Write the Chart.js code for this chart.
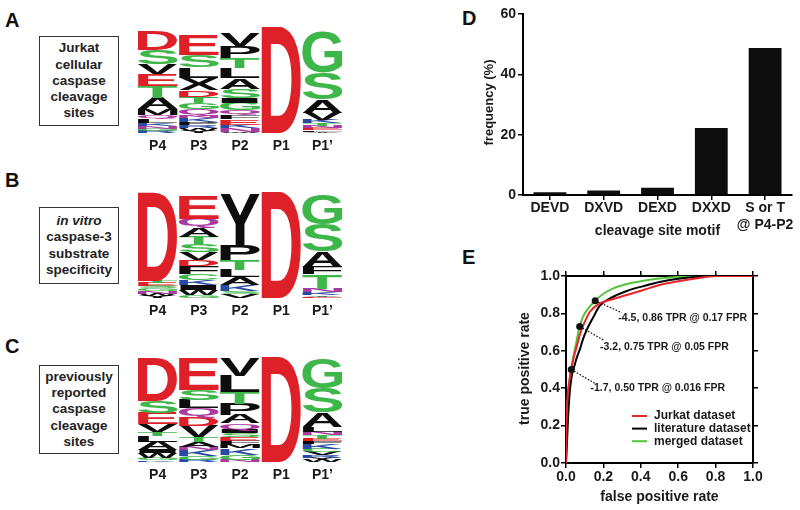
<!DOCTYPE html>
<html><head><meta charset="utf-8">
<script src="https://cdn.jsdelivr.net/npm/chart.js@4.4.0/dist/chart.umd.min.js"></script>
<style>
html,body{margin:0;padding:0;background:#fff;}
body{width:800px;height:510px;position:relative;overflow:hidden;font-family:"Liberation Sans",Arial,sans-serif;}
canvas{position:absolute;}
.panel{position:absolute;font-weight:bold;font-size:20px;line-height:20px;color:#111;}
.box{position:absolute;border:1px solid #333;display:flex;align-items:center;justify-content:center;text-align:center;font-weight:bold;font-size:13.5px;line-height:16.3px;color:#222;box-sizing:border-box;}
</style></head><body>
<div class="panel" style="left:5px;top:10px">A</div>
<div class="panel" style="left:5px;top:170px">B</div>
<div class="panel" style="left:5px;top:336px">C</div>
<div class="panel" style="left:462px;top:8px">D</div>
<div class="panel" style="left:462px;top:247px">E</div>
<div class="box" style="left:39px;top:36px;width:80px;height:90px">Jurkat<br>cellular<br>caspase<br>cleavage<br>sites</div>
<div class="box" style="left:39px;top:207px;width:80px;height:77px"><span><i>in vitro</i><br>caspase-3<br>substrate<br>specificity</span></div>
<div class="box" style="left:39px;top:365px;width:80px;height:89px">previously<br>reported<br>caspase<br>cleavage<br>sites</div>
<canvas id="logoA" width="206" height="134" style="left:137px;top:27px"></canvas>
<canvas id="logoB" width="206" height="134" style="left:137px;top:192px"></canvas>
<canvas id="logoC" width="206" height="133" style="left:137px;top:357px"></canvas>
<canvas id="chartD" width="330" height="245" style="left:470px;top:0px"></canvas>
<canvas id="chartE" width="330" height="265" style="left:470px;top:245px"></canvas>
<script>
// ---------- data ----------
const positions = ['P4', 'P3', 'P2', 'P1', 'P1\u2019'];

// sequence logos: letters listed top -> bottom per position, heights in bits
const logoA_letters = ['DSVETAMQLKNGR', 'ESLXDTGQNKPRWY', 'VPTLASIGQFEKNW', 'D', 'GSAVKTNELY'];
const logoA_bits = [
  [0.72, 0.53, 0.38, 0.42, 0.46, 0.42, 0.23, 0.15, 0.15, 0.11, 0.11, 0.08, 0.08],
  [0.76, 0.46, 0.40, 0.46, 0.25, 0.23, 0.23, 0.23, 0.11, 0.15, 0.11, 0.11, 0.11, 0.08],
  [0.47, 0.45, 0.38, 0.38, 0.41, 0.32, 0.19, 0.28, 0.20, 0.15, 0.19, 0.15, 0.12, 0.05],
  [4.0],
  [1.52, 1.01, 0.50, 0.27, 0.12, 0.10, 0.08, 0.08, 0.06, 0.05]
];
const logoB_letters = ['DTESGNWY', 'EQATSVDFCKIWG', 'YPTLAKSV', 'D', 'GSAFTNKYE'];
const logoB_bits = [
  [3.33, 0.10, 0.12, 0.08, 0.10, 0.10, 0.08, 0.08],
  [0.88, 0.34, 0.34, 0.27, 0.30, 0.30, 0.23, 0.30, 0.23, 0.19, 0.19, 0.19, 0.11],
  [1.95, 0.57, 0.38, 0.27, 0.30, 0.23, 0.11, 0.15],
  [4.0],
  [1.16, 1.02, 0.60, 0.28, 0.54, 0.14, 0.10, 0.06, 0.05]
];
const logoC_letters = ['DSEVTLAIWGK', 'ESLQDVTANKGR', 'VLTPAQISEFMKGN', 'D', 'GSALNTEFKCVRYW'];
const logoC_bits = [
  [1.65, 0.45, 0.41, 0.29, 0.16, 0.22, 0.32, 0.13, 0.19, 0.08, 0.06],
  [1.20, 0.40, 0.32, 0.36, 0.32, 0.41, 0.17, 0.19, 0.13, 0.25, 0.13, 0.08],
  [0.70, 0.63, 0.44, 0.42, 0.32, 0.25, 0.13, 0.15, 0.13, 0.13, 0.16, 0.25, 0.19, 0.08],
  [4.0],
  [1.14, 0.93, 0.55, 0.19, 0.13, 0.13, 0.09, 0.10, 0.19, 0.13, 0.13, 0.10, 0.08, 0.07]
];

// panel D: bar chart
const motifs = ['DEVD', 'DXVD', 'DEXD', 'DXXD', ['S or T', '@ P4-P2']];
const motifFreq = [0.9, 1.5, 2.4, 22.2, 48.7];

// panel E: ROC curves
const jurkatFPR = [0, 0.001, 0.003, 0.007, 0.018, 0.03, 0.045, 0.057, 0.075, 0.093, 0.128, 0.182, 0.235, 0.325, 0.414, 0.5, 0.6, 0.7, 0.8, 1.0];
const jurkatTPR = [0, 0.10, 0.20, 0.33, 0.44, 0.515, 0.58, 0.622, 0.69, 0.738, 0.809, 0.854, 0.872, 0.898, 0.925, 0.952, 0.972, 0.988, 1.0, 1.0];
const literatureFPR = [0, 0.004, 0.01, 0.02, 0.03, 0.045, 0.06, 0.075, 0.09, 0.11, 0.146, 0.18, 0.235, 0.325, 0.414, 0.5, 0.6, 0.7, 0.8, 1.0];
const literatureTPR = [0, 0.08, 0.22, 0.38, 0.46, 0.52, 0.57, 0.61, 0.66, 0.71, 0.78, 0.84, 0.88, 0.92, 0.946, 0.968, 0.985, 0.995, 1.0, 1.0];
const mergedFPR = [0, 0.003, 0.008, 0.015, 0.028, 0.04, 0.05, 0.073, 0.09, 0.11, 0.156, 0.2, 0.253, 0.325, 0.414, 0.5, 0.6, 0.7, 0.8, 1.0];
const mergedTPR = [0, 0.17, 0.30, 0.40, 0.50, 0.57, 0.62, 0.73, 0.78, 0.815, 0.868, 0.905, 0.934, 0.957, 0.975, 0.987, 0.995, 0.999, 1.0, 1.0];
const thresholdFPR = [0.156, 0.073, 0.028];
const thresholdTPR = [0.868, 0.73, 0.50];
const thresholdText = ['-4.5, 0.86 TPR @ 0.17 FPR', '-3.2, 0.75 TPR @ 0.05 FPR', '-1.7, 0.50 TPR @ 0.016 FPR'];
const labelFPR = [0.28, 0.182, 0.131];
const labelTPR = [0.773, 0.62, 0.40];
const leaderEndFPR = [0.298, 0.20, 0.155];
const leaderEndTPR = [0.804, 0.658, 0.426];
const rocLegend = ['Jurkat dataset', 'literature dataset', 'merged dataset'];

// ---------- styles ----------
const FONT = '"Liberation Sans", Arial, Helvetica, sans-serif';
Chart.defaults.font.family = FONT;
Chart.defaults.font.weight = 'bold';
Chart.defaults.color = '#1a1a1a';
const RED = 'rgb(222,32,40)', GREEN = 'rgb(62,182,74)', PURPLE = 'rgb(168,58,160)', BLUE = 'rgb(40,74,162)', BLACK = '#0d0d0d';
const ROC_RED = 'rgb(232,36,40)', ROC_GREEN = 'rgb(84,196,60)';
function letterColor(L) {
  if ('DE'.includes(L)) return RED;
  if ('STGC'.includes(L)) return GREEN;
  if ('NQ'.includes(L)) return PURPLE;
  if ('KRH'.includes(L)) return BLUE;
  return BLACK;
}

// ---------- logos ----------
const glyphCache = {};
function glyphBox(ctx, L) {
  if (!glyphCache[L]) {
    ctx.save();
    ctx.font = 'bold 100px ' + FONT;
    const m = ctx.measureText(L);
    ctx.restore();
    glyphCache[L] = { l: m.actualBoundingBoxLeft, r: m.actualBoundingBoxRight, a: m.actualBoundingBoxAscent, d: m.actualBoundingBoxDescent };
  }
  return glyphCache[L];
}
const letterPlugin = {
  id: 'letters',
  afterDatasetsDraw(chart) {
    const ctx = chart.ctx;
    chart.data.datasets.forEach((ds, i) => {
      const meta = chart.getDatasetMeta(i);
      meta.data.forEach((bar, j) => {
        const L = ds.letters[j];
        if (!L) return;
        const p = bar.getProps(['x', 'y', 'base', 'width'], true);
        const h = p.base - p.y;
        if (h <= 0.2) return;
        const w = p.width;
        const x0 = p.x - w / 2;
        const g = glyphBox(ctx, L);
        ctx.save();
        ctx.translate(x0, p.y);
        ctx.scale(w / (g.l + g.r), h / (g.a + g.d));
        ctx.font = 'bold 100px ' + FONT;
        ctx.textAlign = 'left';
        ctx.textBaseline = 'alphabetic';
        ctx.fillStyle = letterColor(L);
        ctx.fillText(L, g.l, g.a);
        ctx.restore();
      });
    });
  }
};
function makeLogo(id, letters, bits) {
  const n = Math.max(...letters.map(s => s.length));
  const datasets = [];
  for (let r = 0; r < n; r++) {
    const data = [], lab = [];
    letters.forEach((s, c) => {
      const i = s.length - 1 - r;
      if (i >= 0) { data.push(bits[c][i]); lab.push(s[i]); } else { data.push(0); lab.push(''); }
    });
    datasets.push({ data, letters: lab, backgroundColor: 'rgba(0,0,0,0)', borderWidth: 0, barPercentage: 1, categoryPercentage: 0.97 });
  }
  new Chart(document.getElementById(id), {
    type: 'bar',
    data: { labels: positions, datasets },
    options: {
      responsive: false, animation: false, devicePixelRatio: 1,
      layout: { padding: 0 },
      plugins: { legend: { display: false }, tooltip: { enabled: false } },
      scales: {
        x: { stacked: true, grid: { display: false, drawTicks: false }, border: { display: false },
             ticks: { font: { size: 14, weight: 'bold' }, color: '#1a1a1a', padding: 5 },
             afterFit(s) { s.height = 28; } },
        y: { stacked: true, display: false, min: 0, max: 4.0 }
      }
    },
    plugins: [letterPlugin]
  });
}
makeLogo('logoA', logoA_letters, logoA_bits);
makeLogo('logoB', logoB_letters, logoB_bits);
makeLogo('logoC', logoC_letters, logoC_bits);

// ---------- panel D ----------
new Chart(document.getElementById('chartD'), {
  type: 'bar',
  data: { labels: motifs, datasets: [{ data: motifFreq, backgroundColor: BLACK, borderWidth: 0, categoryPercentage: 1, barPercentage: 0.61 }] },
  options: {
    responsive: false, animation: false, devicePixelRatio: 1,
    layout: { padding: { left: 0, right: 8, top: 14, bottom: 0 } },
    plugins: { legend: { display: false }, tooltip: { enabled: false } },
    scales: {
      x: { grid: { drawOnChartArea: false, offset: false, tickLength: 5, color: '#000', lineWidth: 1.5 },
           border: { display: true, color: '#000', width: 2 },
           ticks: { font: { size: 14, weight: 'bold' }, color: '#1a1a1a', padding: 0, maxRotation: 0, autoSkip: false },
           afterFit(s) { s.height = 50; } },
      y: { min: 0, max: 60, ticks: { stepSize: 20, font: { size: 14, weight: 'bold' }, color: '#1a1a1a', padding: 2 },
           grid: { drawOnChartArea: false, tickLength: 5, color: '#000', lineWidth: 1.5 },
           border: { display: true, color: '#000', width: 2 },
           afterFit(s) { s.width = 53; } }
    }
  },
  plugins: [{
    id: 'titlesD',
    afterDraw(chart) {
      const ctx = chart.ctx, a = chart.chartArea;
      ctx.save();
      ctx.fillStyle = '#1a1a1a';
      ctx.textAlign = 'center'; ctx.textBaseline = 'middle';
      ctx.font = 'bold 14px ' + FONT;
      ctx.fillText('cleavage site motif', (a.left + a.right) / 2, 231);
      ctx.translate(19, (a.top + a.bottom) / 2 - 2);
      ctx.rotate(-Math.PI / 2);
      ctx.font = 'bold 13px ' + FONT;
      ctx.fillText('frequency (%)', 0, 0);
      ctx.restore();
    }
  }]
});

// ---------- panel E ----------
const pts = (xs, ys) => xs.map((x, i) => ({ x, y: ys[i] }));
const eDatasets = [
  { data: pts(thresholdFPR, thresholdTPR), showLine: false, pointRadius: 3.5, pointBackgroundColor: '#111', pointBorderWidth: 0 }
];
thresholdFPR.forEach((x, i) => {
  eDatasets.push({ data: [{ x, y: thresholdTPR[i] }, { x: leaderEndFPR[i], y: leaderEndTPR[i] }], showLine: true,
    borderColor: '#111', borderWidth: 1.2, borderDash: [1.6, 1.6], pointRadius: 0 });
});
eDatasets.push(
  { data: pts(jurkatFPR, jurkatTPR), showLine: true, borderColor: ROC_RED, borderWidth: 2, pointRadius: 0, cubicInterpolationMode: 'monotone' },
  { data: pts(literatureFPR, literatureTPR), showLine: true, borderColor: '#000', borderWidth: 2, pointRadius: 0, cubicInterpolationMode: 'monotone' },
  { data: pts(mergedFPR, mergedTPR), showLine: true, borderColor: ROC_GREEN, borderWidth: 2, pointRadius: 0, cubicInterpolationMode: 'monotone' }
);
const axisCommon = { min: 0, max: 1 };
new Chart(document.getElementById('chartE'), {
  type: 'scatter',
  data: { datasets: eDatasets },
  options: {
    responsive: false, animation: false, devicePixelRatio: 1,
    layout: { padding: { left: 0, right: 42, top: 26, bottom: 0 } },
    plugins: { legend: { display: false }, tooltip: { enabled: false } },
    scales: {
      x: { type: 'linear', position: 'bottom', ...axisCommon,
           ticks: { stepSize: 0.2, callback: v => v.toFixed(1), font: { size: 14, weight: 'bold' }, color: '#1a1a1a', padding: 1, maxRotation: 0 },
           grid: { drawOnChartArea: false, tickLength: 5, color: '#000', lineWidth: 1.5 },
           border: { display: true, color: '#000', width: 2 },
           afterFit(s) { s.height = 47; } },
      y: { type: 'linear', position: 'left', ...axisCommon,
           ticks: { stepSize: 0.2, callback: v => v.toFixed(1), font: { size: 14, weight: 'bold' }, color: '#1a1a1a', padding: 1 },
           grid: { drawOnChartArea: false, tickLength: 5, color: '#000', lineWidth: 1.5 },
           border: { display: true, color: '#000', width: 2 },
           afterFit(s) { s.width = 96; } },
      x2: { type: 'linear', position: 'top', ...axisCommon,
           ticks: { stepSize: 0.2, display: false },
           grid: { drawOnChartArea: false, tickLength: 5, color: '#000', lineWidth: 1.5 },
           border: { display: true, color: '#000', width: 2 },
           afterFit(s) { s.height = 5; } },
      y2: { type: 'linear', position: 'right', ...axisCommon,
           ticks: { stepSize: 0.2, display: false },
           grid: { drawOnChartArea: false, tickLength: 5, color: '#000', lineWidth: 1.5 },
           border: { display: true, color: '#000', width: 2 },
           afterFit(s) { s.width = 5; } }
    }
  },
  plugins: [{
    id: 'annotE',
    afterDraw(chart) {
      const ctx = chart.ctx, a = chart.chartArea, sx = chart.scales.x, sy = chart.scales.y;
      ctx.save();
      ctx.fillStyle = '#1a1a1a';
      ctx.textBaseline = 'middle';
      ctx.textAlign = 'left';
      ctx.font = 'bold 10.5px ' + FONT;
      thresholdText.forEach((t, i) => {
        ctx.fillText(t, sx.getPixelForValue(labelFPR[i]), sy.getPixelForValue(labelTPR[i]));
      });
      // legend
      const cols = [ROC_RED, '#000', ROC_GREEN];
      ctx.font = 'bold 12px ' + FONT;
      rocLegend.forEach((t, i) => {
        const y = a.top + 140 + i * 12.6;
        ctx.strokeStyle = cols[i]; ctx.lineWidth = 2;
        ctx.beginPath(); ctx.moveTo(a.left + 66, y); ctx.lineTo(a.left + 81, y); ctx.stroke();
        ctx.fillText(t, a.left + 88, y);
      });
      // axis titles
      ctx.textAlign = 'center';
      ctx.font = 'bold 14px ' + FONT;
      ctx.fillText('false positive rate', (a.left + a.right) / 2, 252);
      ctx.translate(55, (a.top + a.bottom) / 2 - 1);
      ctx.rotate(-Math.PI / 2);
      ctx.fillText('true positive rate', 0, 0);
      ctx.restore();
    }
  }]
});
</script>
</body></html>
